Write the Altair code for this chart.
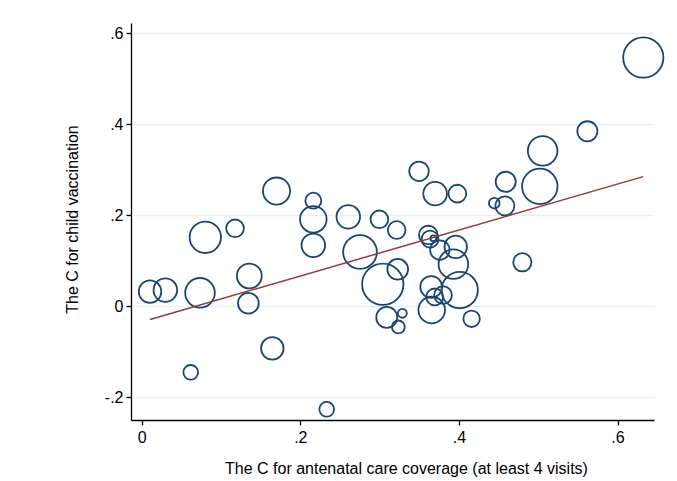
import altair as alt
import pandas as pd

# Bubble data: x = C for antenatal care coverage, y = C for child vaccination,
# weight = relative bubble weight (area proportional)
cx = [0.6325, 0.562, 0.5056, 0.502, 0.459, 0.458, 0.4446, 0.3497, 0.370, 0.398,
      0.480, 0.2164, 0.2164, 0.2164, 0.2605, 0.2997, 0.3215, 0.2753, 0.3614, 0.3636,
      0.3677, 0.376, 0.396, 0.393, 0.401, 0.365, 0.380, 0.3695, 0.3657, 0.416,
      0.304, 0.3228, 0.309, 0.3287, 0.3236, 0.170, 0.0802, 0.1177, 0.0105, 0.0298,
      0.0735, 0.1357, 0.1345, 0.1647, 0.0618, 0.2333]
cy = [0.546, 0.384, 0.341, 0.263, 0.273, 0.220, 0.226, 0.296, 0.247, 0.247,
      0.096, 0.2315, 0.1905, 0.1334, 0.196, 0.1905, 0.167, 0.1187, 0.156, 0.147,
      0.149, 0.123, 0.130, 0.092, 0.035, 0.042, 0.024, 0.020, -0.0088, -0.028,
      0.048, 0.0806, -0.025, -0.016, -0.046, 0.2527, 0.151, 0.1707, 0.0315, 0.035,
      0.029, 0.066, 0.006, -0.093, -0.1458, -0.227]
weight = [515, 128, 279, 400, 128, 114, 36, 121, 177, 100,
          106, 81, 225, 177, 177, 100, 100, 361, 110, 90,
          11, 121, 161, 279, 420, 150, 100, 90, 225, 86,
          543, 137, 140, 25, 53, 234, 313, 100, 161, 177,
          279, 196, 137, 161, 69, 69]

# Linear fit (as drawn in the reference)
fit_intercept = -0.035
fit_slope = 0.505

df = pd.DataFrame({"x": cx, "y": cy, "w": weight})
xmin, xmax = min(cx), max(cx)
line_df = pd.DataFrame({
    "x": [xmin, xmax],
    "y": [fit_intercept + fit_slope * xmin, fit_intercept + fit_slope * xmax],
})

FONT = "Liberation Sans"
label_expr = "datum.value == 0 ? '0' : (datum.value < 0 ? '-.' : '.') + format(abs(datum.value) * 10, '.0f')"

xscale = alt.Scale(domain=[-0.0135, 0.646], nice=False, zero=False)
yscale = alt.Scale(domain=[-0.2505, 0.622], nice=False, zero=False)

xaxis = alt.Axis(
    values=[0, 0.2, 0.4, 0.6], labelExpr=label_expr, grid=False,
    domainColor="#000000", domainWidth=1.3, tickColor="#000000", tickWidth=1.3, tickSize=5,
    labelFont=FONT, labelFontSize=16, labelColor="#000000", labelPadding=4,
    title="The C for antenatal care coverage (at least 4 visits)",
    titleFont=FONT, titleFontSize=16, titleFontWeight="normal", titleColor="#000000",
    titleX=275, titleY=48, titleBaseline="middle", titleAlign="center",
)
yaxis = alt.Axis(
    values=[-0.2, 0, 0.2, 0.4, 0.6], labelExpr=label_expr, grid=True,
    gridColor="#e6eff1", gridWidth=1.5,
    domainColor="#000000", domainWidth=1.3, tickColor="#000000", tickWidth=1.3, tickSize=5,
    labelFont=FONT, labelFontSize=16, labelColor="#000000", labelPadding=3, labelAngle=0,
    title="The C for child vaccination",
    titleFont=FONT, titleFontSize=16, titleFontWeight="normal", titleColor="#000000",
    titleX=-59, titleY=196, titleBaseline="middle", titleAlign="center", titleAngle=-90,
)

points = alt.Chart(df).mark_point(
    shape="circle", filled=False, color="#1a476f", strokeWidth=1.8, opacity=1
).encode(
    x=alt.X("x:Q", scale=xscale, axis=xaxis),
    y=alt.Y("y:Q", scale=yscale, axis=yaxis),
    size=alt.Size("w:Q", scale=alt.Scale(type="linear", domain=[0, 600], range=[0, 600 * 3.14159]), legend=None),
)

fit = alt.Chart(line_df).mark_line(color="#923a3e", strokeWidth=1.5).encode(
    x=alt.X("x:Q", scale=xscale),
    y=alt.Y("y:Q", scale=yscale),
)

chart = alt.layer(points, fit).properties(
    width=523, height=397,
    autosize=alt.AutoSizeParams(type="none"),
    padding={"left": 123, "top": 15, "right": 15, "bottom": 70},
    background="white",
).configure_view(stroke=None)

chart.save("out.html", embed_options={"renderer": "svg", "actions": False})
